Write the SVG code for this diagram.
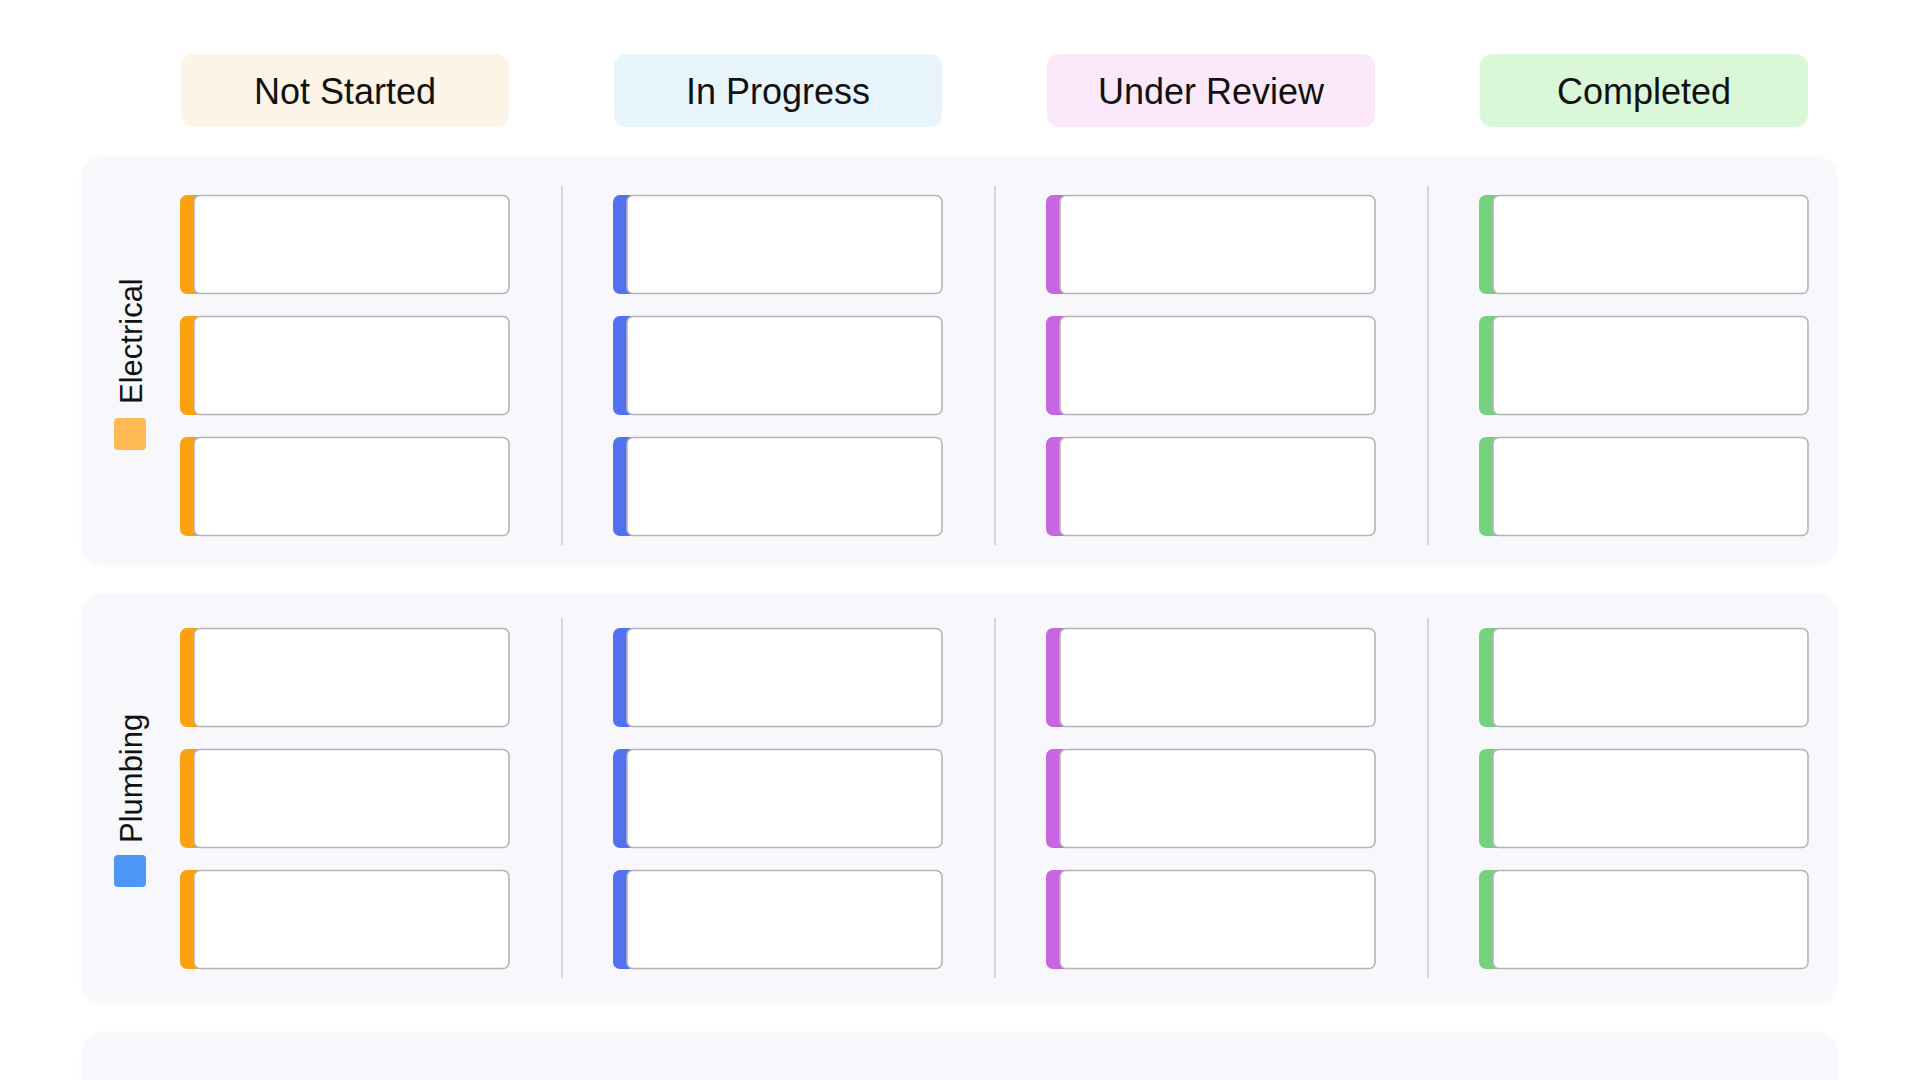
<svg xmlns="http://www.w3.org/2000/svg" width="1920" height="1080" viewBox="0 0 1920 1080">
  <defs>
    <filter id="sh" x="-5%" y="-5%" width="110%" height="110%">
      <feDropShadow dx="0" dy="1" stdDeviation="2" flood-color="#000" flood-opacity="0.04"/>
    </filter>
  </defs>
  <style>
    .hdr-text { font-family: "Liberation Sans", Arial, sans-serif; font-size: 36px; fill: #111111; text-anchor: middle; }
    .lane-text { font-family: "Liberation Sans", Arial, sans-serif; font-size: 31px; fill: #111111; }
    .panel { fill: #F8F8FC; }
    .card { fill: #FFFFFF; stroke: #B4B4B8; stroke-width: 1.6; }
    .div { stroke: #D6D6DA; stroke-width: 2; }
    .ns { fill: #FAA10F; }
    .ip { fill: #5271F2; }
    .ur { fill: #C865E2; }
    .cp { fill: #74D27F; }
  </style>
  <rect width="1920" height="1080" fill="#FFFFFF"/>

  <g id="headers">
    <g id="hdr-not-started">
      <rect x="181" y="54" width="328" height="73" rx="12" fill="#FDF4E8"/>
      <text class="hdr-text" x="345" y="104">Not Started</text>
    </g>
    <g id="hdr-in-progress">
      <rect x="614" y="54" width="328" height="73" rx="12" fill="#E8F5FD"/>
      <text class="hdr-text" x="778" y="104">In Progress</text>
    </g>
    <g id="hdr-under-review">
      <rect x="1047" y="54" width="328" height="73" rx="12" fill="#FBE9FB"/>
      <text class="hdr-text" x="1211" y="104">Under Review</text>
    </g>
    <g id="hdr-completed">
      <rect x="1480" y="54" width="328" height="73" rx="12" fill="#DAF8D7"/>
      <text class="hdr-text" x="1644" y="104">Completed</text>
    </g>
  </g>

  <g id="lane-electrical">
    <rect class="panel" x="82" y="157" width="1755" height="407" rx="20" filter="url(#sh)"/>
    <rect x="114" y="418" width="32" height="32" rx="4" fill="#FFBA55"/>
    <text class="lane-text" transform="translate(142 404) rotate(-90)">Electrical</text>
  </g>

  <g id="lane-plumbing">
    <rect class="panel" x="82" y="594" width="1755" height="408" rx="20" filter="url(#sh)"/>
    <rect x="114" y="855" width="32" height="32" rx="4" fill="#4C96F7"/>
    <text class="lane-text" transform="translate(142 843) rotate(-90)">Plumbing</text>
  </g>

  <g id="lane-third">
    <rect class="panel" x="82" y="1032" width="1755" height="200" rx="20" filter="url(#sh)"/>
  </g>

  <g id="connectors">
    <line class="div" x1="562" y1="186" x2="562" y2="545"/>
    <line class="div" x1="995" y1="186" x2="995" y2="545"/>
    <line class="div" x1="1428" y1="186" x2="1428" y2="545"/>
    <line class="div" x1="562" y1="618" x2="562" y2="978"/>
    <line class="div" x1="995" y1="618" x2="995" y2="978"/>
    <line class="div" x1="1428" y1="618" x2="1428" y2="978"/>
  </g>

  <g id="cards">
    <!-- Electrical: Not Started -->
    <g id="e-ns-1"><rect class="ns" x="180" y="195" width="30" height="99" rx="7"/><rect class="card" x="194" y="195.5" width="315" height="98" rx="6"/></g>
    <g id="e-ns-2"><rect class="ns" x="180" y="316" width="30" height="99" rx="7"/><rect class="card" x="194" y="316.5" width="315" height="98" rx="6"/></g>
    <g id="e-ns-3"><rect class="ns" x="180" y="437" width="30" height="99" rx="7"/><rect class="card" x="194" y="437.5" width="315" height="98" rx="6"/></g>
    <!-- Electrical: In Progress -->
    <g id="e-ip-1"><rect class="ip" x="613" y="195" width="30" height="99" rx="7"/><rect class="card" x="627" y="195.5" width="315" height="98" rx="6"/></g>
    <g id="e-ip-2"><rect class="ip" x="613" y="316" width="30" height="99" rx="7"/><rect class="card" x="627" y="316.5" width="315" height="98" rx="6"/></g>
    <g id="e-ip-3"><rect class="ip" x="613" y="437" width="30" height="99" rx="7"/><rect class="card" x="627" y="437.5" width="315" height="98" rx="6"/></g>
    <!-- Electrical: Under Review -->
    <g id="e-ur-1"><rect class="ur" x="1046" y="195" width="30" height="99" rx="7"/><rect class="card" x="1060" y="195.5" width="315" height="98" rx="6"/></g>
    <g id="e-ur-2"><rect class="ur" x="1046" y="316" width="30" height="99" rx="7"/><rect class="card" x="1060" y="316.5" width="315" height="98" rx="6"/></g>
    <g id="e-ur-3"><rect class="ur" x="1046" y="437" width="30" height="99" rx="7"/><rect class="card" x="1060" y="437.5" width="315" height="98" rx="6"/></g>
    <!-- Electrical: Completed -->
    <g id="e-cp-1"><rect class="cp" x="1479" y="195" width="30" height="99" rx="7"/><rect class="card" x="1493" y="195.5" width="315" height="98" rx="6"/></g>
    <g id="e-cp-2"><rect class="cp" x="1479" y="316" width="30" height="99" rx="7"/><rect class="card" x="1493" y="316.5" width="315" height="98" rx="6"/></g>
    <g id="e-cp-3"><rect class="cp" x="1479" y="437" width="30" height="99" rx="7"/><rect class="card" x="1493" y="437.5" width="315" height="98" rx="6"/></g>

    <!-- Plumbing: Not Started -->
    <g id="p-ns-1"><rect class="ns" x="180" y="628" width="30" height="99" rx="7"/><rect class="card" x="194" y="628.5" width="315" height="98" rx="6"/></g>
    <g id="p-ns-2"><rect class="ns" x="180" y="749" width="30" height="99" rx="7"/><rect class="card" x="194" y="749.5" width="315" height="98" rx="6"/></g>
    <g id="p-ns-3"><rect class="ns" x="180" y="870" width="30" height="99" rx="7"/><rect class="card" x="194" y="870.5" width="315" height="98" rx="6"/></g>
    <!-- Plumbing: In Progress -->
    <g id="p-ip-1"><rect class="ip" x="613" y="628" width="30" height="99" rx="7"/><rect class="card" x="627" y="628.5" width="315" height="98" rx="6"/></g>
    <g id="p-ip-2"><rect class="ip" x="613" y="749" width="30" height="99" rx="7"/><rect class="card" x="627" y="749.5" width="315" height="98" rx="6"/></g>
    <g id="p-ip-3"><rect class="ip" x="613" y="870" width="30" height="99" rx="7"/><rect class="card" x="627" y="870.5" width="315" height="98" rx="6"/></g>
    <!-- Plumbing: Under Review -->
    <g id="p-ur-1"><rect class="ur" x="1046" y="628" width="30" height="99" rx="7"/><rect class="card" x="1060" y="628.5" width="315" height="98" rx="6"/></g>
    <g id="p-ur-2"><rect class="ur" x="1046" y="749" width="30" height="99" rx="7"/><rect class="card" x="1060" y="749.5" width="315" height="98" rx="6"/></g>
    <g id="p-ur-3"><rect class="ur" x="1046" y="870" width="30" height="99" rx="7"/><rect class="card" x="1060" y="870.5" width="315" height="98" rx="6"/></g>
    <!-- Plumbing: Completed -->
    <g id="p-cp-1"><rect class="cp" x="1479" y="628" width="30" height="99" rx="7"/><rect class="card" x="1493" y="628.5" width="315" height="98" rx="6"/></g>
    <g id="p-cp-2"><rect class="cp" x="1479" y="749" width="30" height="99" rx="7"/><rect class="card" x="1493" y="749.5" width="315" height="98" rx="6"/></g>
    <g id="p-cp-3"><rect class="cp" x="1479" y="870" width="30" height="99" rx="7"/><rect class="card" x="1493" y="870.5" width="315" height="98" rx="6"/></g>
  </g>
</svg>
